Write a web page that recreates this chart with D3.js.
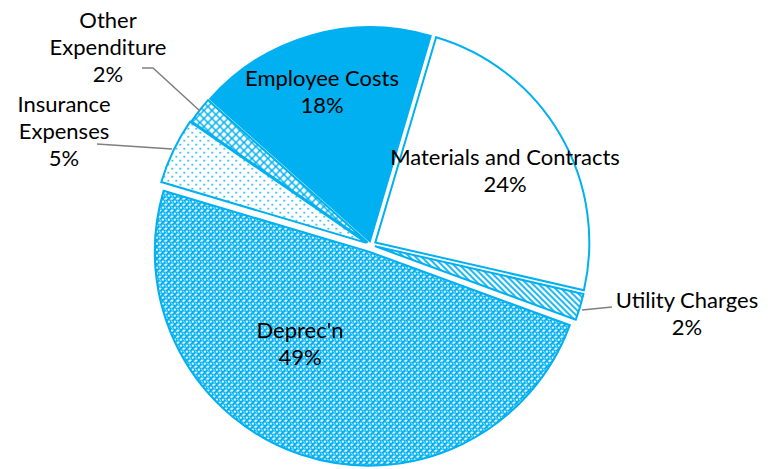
<!DOCTYPE html>
<html><head><meta charset="utf-8">
<script src="https://cdn.jsdelivr.net/npm/d3@7"></script>
<style>
html,body{margin:0;padding:0;background:#fff;}
svg{display:block;}
text{font-family:Lato,"Open Sans",sans-serif;fill:#000;}
</style></head>
<body>
<div id="chart"></div>
<script>
// ---- data ----
const categories = ["Materials and Contracts","Utility Charges","Deprec'n","Insurance Expenses","Other Expenditure","Employee Costs"];
const values = [24, 2, 49, 5, 2, 18];
const labelLines = [["Materials and Contracts","24%"],["Utility Charges","2%"],["Deprec'n","49%"],["Insurance","Expenses","5%"],["Other","Expenditure","2%"],["Employee Costs","18%"]];

// ---- layout ----
const W = 772, H = 469;
const cx = 371, cy = 245, R = 214;
const explode = [5, 4, 7, 5, 4, 4];
const fills = ["#ffffff","url(#pUtil)","url(#pDep)","url(#pIns)","url(#pOth)","#00B0F0"];
const labelPos = [[505,157],[687,300],[300,330],[64,104],[108,20],[322,78]];
const lineH = 27;
const blue = "#00B0F0";

const svg = d3.select("#chart").append("svg").attr("width", W).attr("height", H);
const defs = svg.append("defs");

// Utility: diagonal stripes "\"
const pu = defs.append("pattern").attr("id","pUtil").attr("patternUnits","userSpaceOnUse").attr("width",6).attr("height",6);
pu.append("rect").attr("width",6).attr("height",6).attr("fill","#fff");
pu.append("path").attr("d","M-1,-1L7,7M-4,2L2,8M4,-2L8,2").attr("stroke",blue).attr("stroke-width",1.8);

// Deprec'n: small diamond grid
const pd = defs.append("pattern").attr("id","pDep").attr("patternUnits","userSpaceOnUse").attr("width",6).attr("height",6);
pd.append("rect").attr("width",6).attr("height",6).attr("fill",blue);
pd.append("rect").attr("x",0).attr("y",0).attr("width",2).attr("height",2).attr("fill","#fff");
pd.append("rect").attr("x",3).attr("y",3).attr("width",2).attr("height",2).attr("fill","#fff");
pd.append("rect").attr("x",2).attr("y",0).attr("width",1).attr("height",1).attr("fill","#bfeafb");
pd.append("rect").attr("x",0).attr("y",3).attr("width",1).attr("height",1).attr("fill","#dff4fd");
pd.append("rect").attr("x",5).attr("y",1).attr("width",1).attr("height",1).attr("fill","#dff4fd");
pd.append("rect").attr("x",1).attr("y",4).attr("width",1).attr("height",1).attr("fill","#dff4fd");

// Insurance: sparse dots
const pi = defs.append("pattern").attr("id","pIns").attr("patternUnits","userSpaceOnUse").attr("width",8).attr("height",8);
pi.append("rect").attr("width",8).attr("height",8).attr("fill","#fff");
pi.append("rect").attr("x",1).attr("y",1).attr("width",1.6).attr("height",1.6).attr("fill",blue);
pi.append("rect").attr("x",5).attr("y",5).attr("width",1.6).attr("height",1.6).attr("fill",blue);

// Other: large diagonal grid
const po = defs.append("pattern").attr("id","pOth").attr("patternUnits","userSpaceOnUse").attr("width",8).attr("height",8);
po.append("rect").attr("width",8).attr("height",8).attr("fill","#fff");
po.append("path").attr("d","M0,0L8,8M8,0L0,8").attr("stroke",blue).attr("stroke-width",1.5);

const pie = d3.pie().sort(null).value(d => d).startAngle(16.5*Math.PI/180).endAngle(376.5*Math.PI/180);
const arcs = pie(values);
const arc = d3.arc().innerRadius(0).outerRadius(R);

const g = svg.append("g").attr("transform", `translate(${cx},${cy})`);
g.selectAll("path.slice").data(arcs).join("path")
  .attr("class","slice")
  .attr("transform", (d,i) => {
    const a = (d.startAngle + d.endAngle)/2;
    return `translate(${explode[i]*Math.sin(a)},${-explode[i]*Math.cos(a)})`;
  })
  .attr("d", arc)
  .attr("fill", (d,i) => fills[i])
  .attr("stroke", blue)
  .attr("stroke-width", 2)
  .attr("stroke-linejoin","miter");

// leader lines
const leaders = [
  {i:1, pts:[[582,310],[612,307]]},
  {i:3, pts:[[97,144],[172,149]]},
  {i:4, pts:[[142,68],[153,68],[200,111]]}
];
svg.selectAll("path.leader").data(leaders).join("path")
  .attr("class","leader")
  .attr("d", d => d3.line()(d.pts))
  .attr("fill","none").attr("stroke","#7f7f7f").attr("stroke-width",1.5);

// labels
labelLines.forEach((lines, i) => {
  const t = svg.append("text").attr("text-anchor","middle").attr("font-size",22);
  lines.forEach((s, k) => {
    t.append("tspan").attr("x", labelPos[i][0]).attr("y", labelPos[i][1] + k*lineH).attr("dy","0.35em").text(s);
  });
});
</script>
</body></html>
